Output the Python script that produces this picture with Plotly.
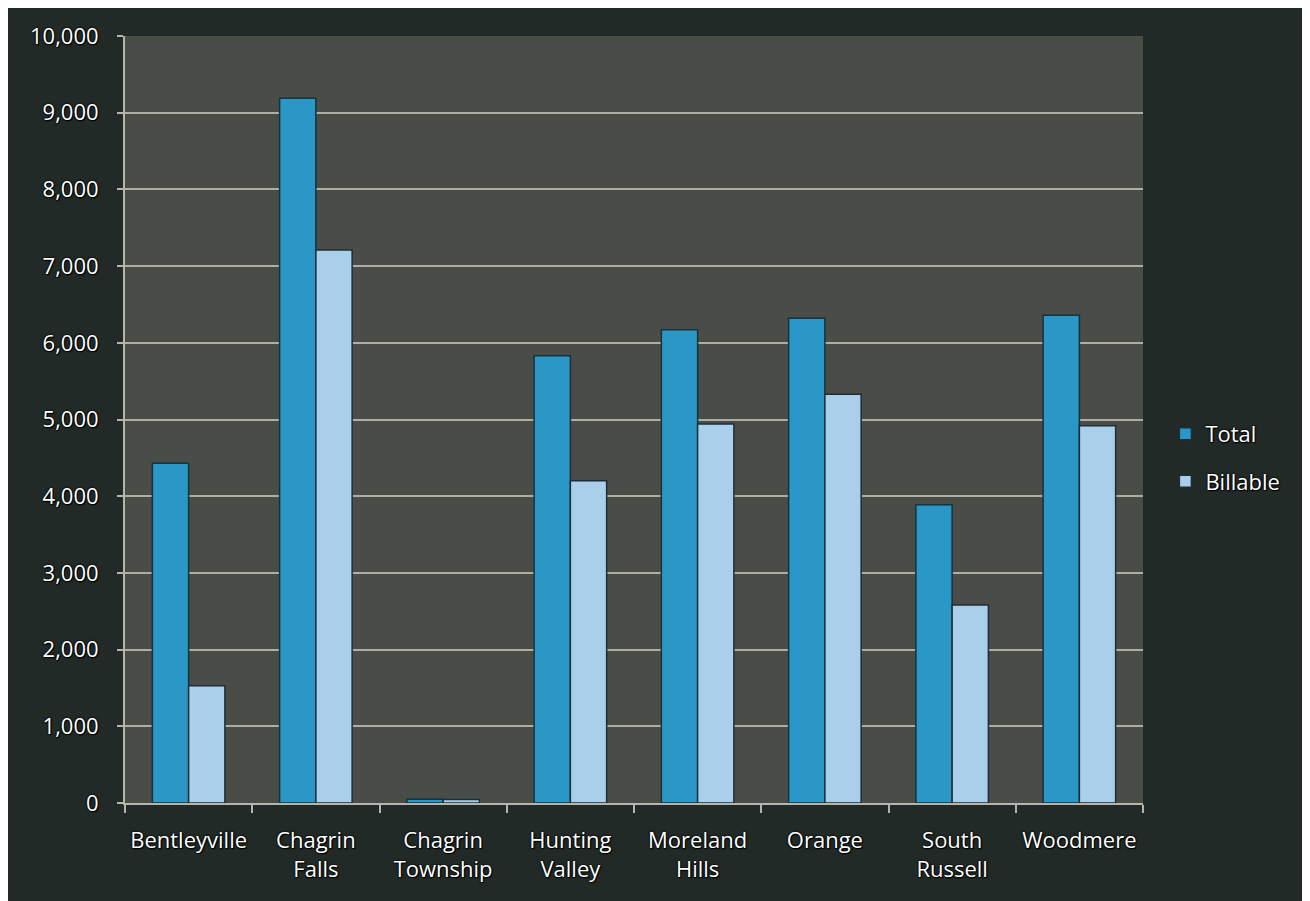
import plotly.graph_objects as go

categories = ["Bentleyville", "Chagrin<br>Falls", "Chagrin<br>Township", "Hunting<br>Valley",
              "Moreland<br>Hills", "Orange", "South<br>Russell", "Woodmere"]
total = [4430, 9190, 50, 5830, 6170, 6320, 3890, 6360]
billable = [1530, 7210, 45, 4200, 4940, 5330, 2580, 4920]
y_ticks = [0, 1000, 2000, 3000, 4000, 5000, 6000, 7000, 8000, 9000, 10000]

W, H = 1310, 901
L, R, T, B = 117, 175, 28, 106

FONT = "Open Sans"
FS = 22
SHADOW = "0px 0px 2px #000, 0px 0px 2px #000, 1px 1px 1px #000"

fig = go.Figure()
fig.add_trace(go.Bar(name="Total", x=categories, y=total, legendgroup="t",
                     marker=dict(color="#2b97c6", line=dict(color="#16323a", width=1.5))))
fig.add_trace(go.Bar(name="Billable", x=categories, y=billable, legendgroup="b",
                     marker=dict(color="#a9cfea", line=dict(color="#1e2e36", width=1.5))))

fig.update_layout(
    width=W, height=H,
    margin=dict(l=L, r=R, t=T, b=B, pad=0),
    paper_bgcolor="#212a26",
    plot_bgcolor="#4a4c47",
    barmode="group",
    bargap=0.43,
    bargroupgap=0,
    font=dict(family=FONT, size=FS, color="#ffffff", shadow=SHADOW),
    legend=dict(x=1.022, y=0.45, xanchor="left", yanchor="middle",
                font=dict(family=FONT, size=FS, color="#ffffff", shadow=SHADOW),
                bgcolor="rgba(0,0,0,0)", traceorder="grouped", tracegroupgap=16),
    showlegend=True,
    xaxis=dict(
        type="category", tickson="boundaries", ticks="outside", ticklen=8, tickwidth=2,
        tickcolor="#b5b5ad", showline=True, linecolor="#b5b5ad", linewidth=2,
        showgrid=False, tickfont=dict(family=FONT, size=FS, color="#ffffff", shadow=SHADOW),
        ticklabelstandoff=17,
    ),
    yaxis=dict(
        range=[0, 10000], tickvals=y_ticks, tickformat=",d", ticks="outside", ticklen=6,
        tickwidth=2, tickcolor="#b5b5ad", showline=True, linecolor="#b5b5ad", linewidth=2,
        showgrid=True, gridcolor="#aeaea6", gridwidth=2, zeroline=False,
        tickfont=dict(family=FONT, size=FS, color="#ffffff", shadow=SHADOW),
        ticklabelstandoff=14,
    ),
)

fig.write_html("out.html")
